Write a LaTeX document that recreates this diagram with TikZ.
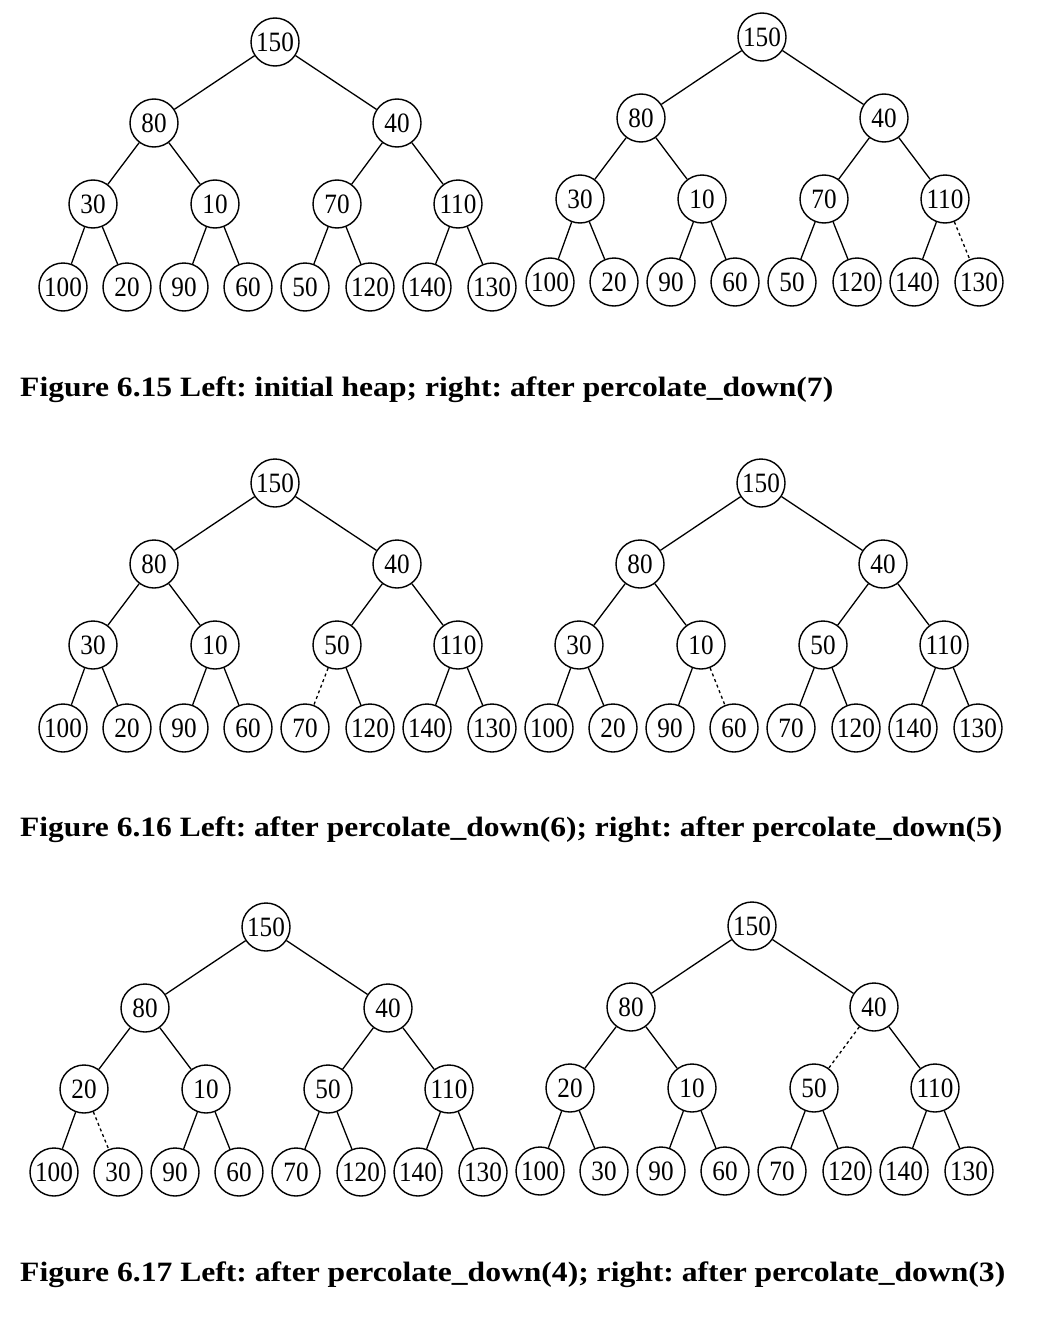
\documentclass[tikz,border=0pt]{standalone}
\usepackage{fontspec}
\setmainfont{Liberation Serif}
\frenchspacing
\tikzset{
  hn/.style={circle,draw,line width=1.4pt,minimum size=48pt,inner sep=0pt,font=\fontsize{28}{28}\selectfont},
  edge/.style={line width=1.3pt},
  dashededge/.style={line width=1.3pt,dash pattern=on 3pt off 3pt},
  captext/.style={anchor=base west,inner sep=0pt,font=\bfseries\fontsize{28}{28}\selectfont}
}
\newcommand\drawheap[4]{%
  \begin{scope}[shift={#2}]
    \foreach \lab [count=\i] in {#3} {
      \pgfmathsetmacro\hx{{0,-121,122,-182,-60,62,183,-212,-148,-91,-27,30,95,152,217}[\i-1]}
      \pgfmathsetmacro\hy{{0,81,81,162,162,162,162,245,245,245,245,245,245,245,245}[\i-1]}
      \node[hn] (#1-\i) at (\hx,\hy) {\scalebox{0.9}[1]{\lab}};
    }
    \foreach \i in {2,...,15} {
      \pgfmathtruncatemacro\p{\i/2}
      \ifnum\i=#4\relax
        \draw[dashededge] (#1-\p) -- (#1-\i);
      \else
        \draw[edge] (#1-\p) -- (#1-\i);
      \fi
    }
  \end{scope}}
\begin{document}
\begin{tikzpicture}[x=1pt,y=-1pt]
\useasboundingbox[fill=white] (0,0) rectangle (1041,1322);
\drawheap{a}{(275,42)}{150,80,40,30,10,70,110,100,20,90,60,50,120,140,130}{0}
\drawheap{b}{(762,37)}{150,80,40,30,10,70,110,100,20,90,60,50,120,140,130}{15}
\node[captext] (c1) at (20,396) {\resizebox{813pt}{\height}{Figure 6.15 Left: initial heap; right: after percolate\_down(7)}};
\drawheap{c}{(275,483)}{150,80,40,30,10,50,110,100,20,90,60,70,120,140,130}{12}
\drawheap{d}{(761,483)}{150,80,40,30,10,50,110,100,20,90,60,70,120,140,130}{11}
\node[captext] (c2) at (20,836) {\resizebox{982pt}{\height}{Figure 6.16 Left: after percolate\_down(6); right: after percolate\_down(5)}};
\drawheap{e}{(266,927)}{150,80,40,20,10,50,110,100,30,90,60,70,120,140,130}{9}
\drawheap{f}{(752,926)}{150,80,40,20,10,50,110,100,30,90,60,70,120,140,130}{6}
\node[captext] (c3) at (20,1281) {\resizebox{985pt}{\height}{Figure 6.17 Left: after percolate\_down(4); right: after percolate\_down(3)}};
\end{tikzpicture}
\end{document}
